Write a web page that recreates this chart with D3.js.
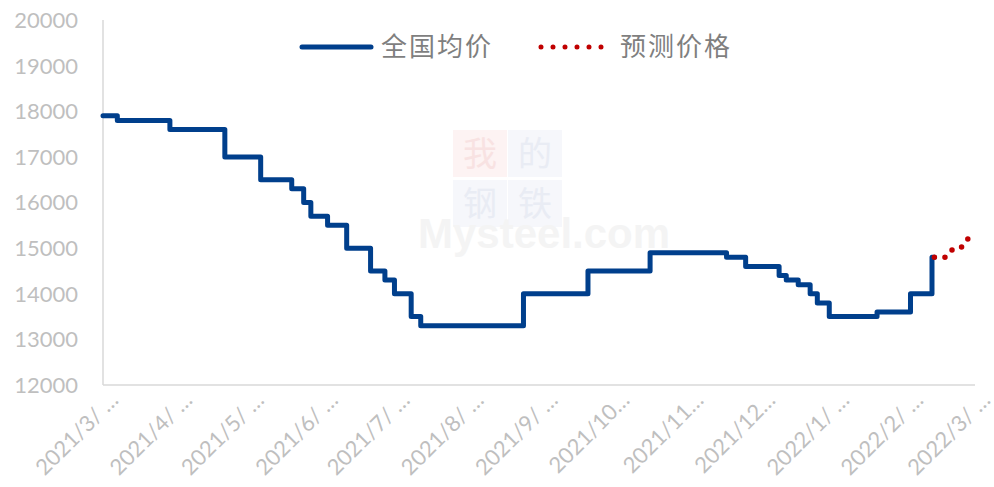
<!DOCTYPE html>
<html>
<head>
<meta charset="utf-8">
<script src="https://cdn.jsdelivr.net/npm/d3@7"></script>
<style>
  body { margin: 0; background: #fff; }
  svg { display: block; }
</style>
</head>
<body>
<div id="chart-area"></div>
<script>
// national average price: date the price changed, and the new price
const changeDates = [
  "2021-03-01", "2021-03-07", "2021-03-29", "2021-04-21", "2021-05-06",
  "2021-05-19", "2021-05-24", "2021-05-27", "2021-06-03", "2021-06-11",
  "2021-06-21", "2021-06-27", "2021-07-01", "2021-07-08", "2021-07-12",
  "2021-08-24", "2021-09-20", "2021-10-16", "2021-11-17", "2021-11-25",
  "2021-12-09", "2021-12-12", "2021-12-17", "2021-12-22", "2021-12-25",
  "2021-12-30", "2022-01-19", "2022-02-02", "2022-02-11", "2022-02-12"
]
const avgPrice = [
  17900, 17800, 17600, 17000, 16500,
  16300, 16000, 15700, 15500, 15000,
  14500, 14300, 14000, 13500, 13300,
  14000, 14500, 14900, 14800, 14600,
  14400, 14300, 14200, 14000, 13800,
  13500, 13600, 14000, 14800, 14800
]

// forecast
const forecastDates = ["2022-02-12", "2022-02-17", "2022-02-20", "2022-02-24", "2022-02-26"]
const forecastPrice = [14800, 14800, 15000, 15030, 15200]

const yTicks = [12000, 13000, 14000, 15000, 16000, 17000, 18000, 19000, 20000]
const monthTicks = [
  "2021-03-01", "2021-04-01", "2021-05-01", "2021-06-01", "2021-07-01",
  "2021-08-01", "2021-09-01", "2021-10-01", "2021-11-01", "2021-12-01",
  "2022-01-01", "2022-02-01", "2022-03-01"
]
const monthLabels = [
  "2021/3/ …", "2021/4/ …", "2021/5/ …", "2021/6/ …", "2021/7/ …", "2021/8/ …",
  "2021/9/ …", "2021/10…", "2021/11…", "2021/12…", "2022/1/ …", "2022/2/ …", "2022/3/ …"
]
const seriesNames = ["全国均价", "预测价格"]

const parse = d3.timeParse("%Y-%m-%d")
const avgData = changeDates.map((d, i) => ({date: parse(d), value: avgPrice[i]}))
const fcData = forecastDates.map((d, i) => ({date: parse(d), value: forecastPrice[i]}))

var cw = 994, ch = 487
var svg = d3.select("#chart-area").append("svg")
    .attr("width", cw)
    .attr("height", ch)

var x = d3.scaleTime()
    .domain([parse(monthTicks[0]), parse(monthTicks[monthTicks.length - 1])])
    .range([103, 975])

var y = d3.scaleLinear()
    .domain([12000, 20000])
    .range([385, 20])

const axisColor = "#d9d9d9"
const labelColor = "#bfbfbf"
const blue = "#003f8c"
const red = "#c00000"

// watermark
var wm = svg.append("g").attr("class", "watermark")
const wmChars = [["我", 453, 130, "#fdf3f3", "#f8e2e2"], ["的", 508, 130, "#f6f7fb", "#e9ecf4"],
                 ["钢", 453, 180, "#f6f7fb", "#e9ecf4"], ["铁", 508, 180, "#f6f7fb", "#e9ecf4"]]
wmChars.forEach(c => {
  wm.append("rect").attr("x", c[1]).attr("y", c[2]).attr("width", 54).attr("height", 47).attr("fill", c[3])
  wm.append("text").attr("x", c[1] + 27).attr("y", c[2] + 24).attr("dy", "0.36em")
    .attr("text-anchor", "middle").attr("font-family", "Noto Sans CJK SC")
    .attr("font-size", "34px").attr("fill", c[4]).text(c[0])
})
wm.append("text").attr("x", 418).attr("y", 248)
  .attr("font-family", "Liberation Sans, Arial").attr("font-weight", "bold")
  .attr("font-size", "42px").attr("fill", "#f4f4f4").text("Mysteel.com")

// axes
svg.append("line").attr("x1", 103).attr("x2", 103).attr("y1", 20).attr("y2", 385)
  .attr("stroke", axisColor).attr("stroke-width", 1.5)
svg.append("line").attr("x1", 103).attr("x2", 975).attr("y1", 385).attr("y2", 385)
  .attr("stroke", axisColor).attr("stroke-width", 1.5)

svg.append("g").selectAll("text")
  .data(yTicks)
  .enter().append("text")
  .attr("x", 78)
  .attr("y", d => y(d))
  .attr("dy", "0.36em")
  .attr("text-anchor", "end")
  .attr("font-family", "Lato, Open Sans, sans-serif")
  .attr("font-size", "22px")
  .attr("fill", labelColor)
  .text(d => d)

svg.append("g").selectAll("text")
  .data(monthTicks)
  .enter().append("text")
  .attr("transform", d => `translate(${x(parse(d)) + 12}, 397) rotate(-45)`)
  .attr("text-anchor", "end")
  .attr("dy", "0.3em")
  .attr("font-family", "Lato, Open Sans, sans-serif")
  .attr("font-size", "22px")
  .attr("fill", labelColor)
  .text((d, i) => monthLabels[i])

// series
var line = d3.line()
  .x(d => x(d.date))
  .y(d => y(d.value))

svg.append("path")
  .datum(avgData)
  .attr("d", line.curve(d3.curveStepAfter))
  .attr("fill", "none")
  .attr("stroke", blue)
  .attr("stroke-width", 5)
  .attr("stroke-linejoin", "round")
  .attr("stroke-linecap", "round")

var fcPath = svg.append("path")
  .datum(fcData)
  .attr("d", d3.line().x(d => x(d.date)).y(d => y(d.value)))
  .attr("fill", "none")
  .attr("stroke", red)
  .attr("stroke-width", 5.5)
  .attr("stroke-linecap", "round")

// spread the dots so one falls on each end
var len = fcPath.node().getTotalLength()
var gap = len / Math.max(1, Math.round(len / 10.5))
fcPath.attr("stroke-dasharray", `0 ${gap - 0.01}`)

// legend
var legend = svg.append("g").attr("class", "legend")
legend.append("line").attr("x1", 302).attr("x2", 371).attr("y1", 47).attr("y2", 47)
  .attr("stroke", blue).attr("stroke-width", 5).attr("stroke-linecap", "round")
legend.append("line").attr("x1", 541).attr("x2", 603).attr("y1", 47).attr("y2", 47)
  .attr("stroke", red).attr("stroke-width", 5).attr("stroke-dasharray", "0 12")
  .attr("stroke-linecap", "round")
legend.selectAll("text.name")
  .data(seriesNames)
  .enter().append("text")
  .attr("class", "name")
  .attr("x", (d, i) => i === 0 ? 381 : 620)
  .attr("y", 47)
  .attr("dy", "0.36em")
  .attr("font-family", "Noto Sans CJK SC")
  .attr("font-size", "26px")
  .attr("letter-spacing", "2px")
  .attr("fill", "#7f7f7f")
  .text(d => d)
</script>
</body>
</html>
